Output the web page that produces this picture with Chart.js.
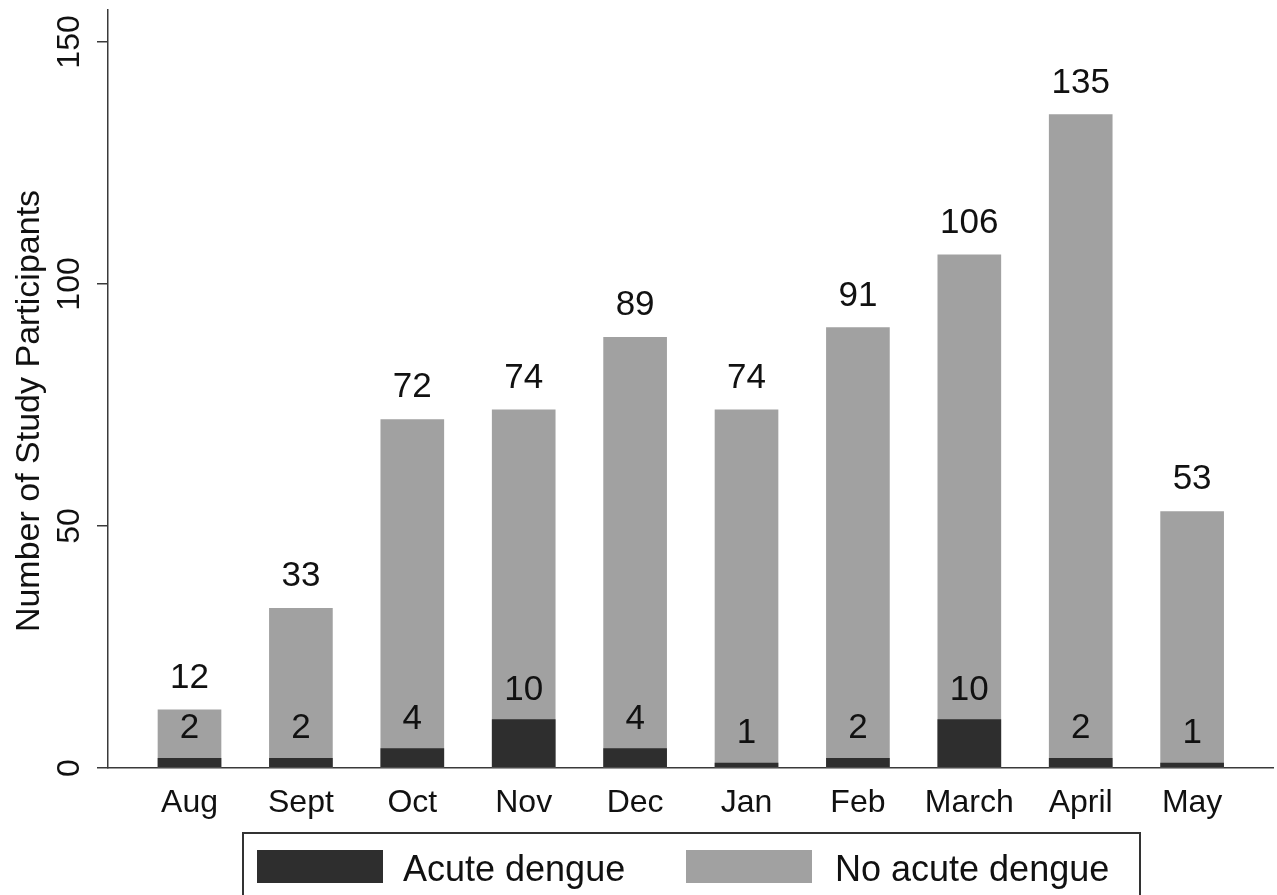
<!DOCTYPE html>
<html><head><meta charset="utf-8">
<script src="https://cdn.jsdelivr.net/npm/chart.js@4.4.1/dist/chart.umd.min.js"></script>
<style>html,body{margin:0;padding:0;background:#fff;overflow:hidden}#wrap{width:1277px;height:895px;position:relative}canvas{display:block}</style>
</head><body><div id="wrap"><canvas id="c" width="1277" height="895"></canvas></div>
<script>
const months = ['Aug','Sept','Oct','Nov','Dec','Jan','Feb','March','April','May'];
const acuteDengue = [2,2,4,10,4,1,2,10,2,1];
const totalParticipants = [12,33,72,74,89,74,91,106,135,53];
const yTicks = [0,50,100,150];
const seriesNames = ['Acute dengue','No acute dengue'];
const yTitle = 'Number of Study Participants';

const FONT = '"Liberation Sans", Arial, Helvetica, sans-serif';
const DARK = '#2e2e2e', GRAY = '#a1a1a1', AXIS = '#3a3a3a', TXT = '#111111';

const labelPlugin = {
  id: 'valueLabels',
  afterDatasetsDraw(chart) {
    const ctx = chart.ctx;
    ctx.save();
    ctx.fillStyle = TXT;
    ctx.font = '35px ' + FONT;
    ctx.textAlign = 'center';
    ctx.textBaseline = 'alphabetic';
    chart.data.datasets.forEach((ds, di) => {
      const meta = chart.getDatasetMeta(di);
      meta.data.forEach((bar, i) => {
        const off = di === 0 ? 20 : 22;
        ctx.fillText(String(ds.data[i].y), bar.x, bar.y - off);
      });
    });
    ctx.restore();
  }
};

const decorPlugin = {
  id: 'decor',
  afterDraw(chart) {
    const ctx = chart.ctx;
    ctx.save();
    ctx.translate(30, 411);
    ctx.rotate(-Math.PI / 2);
    ctx.fillStyle = TXT;
    ctx.font = '34px ' + FONT;
    ctx.textAlign = 'center';
    ctx.textBaseline = 'middle';
    ctx.fillText(yTitle, 0, 0);
    ctx.restore();
    ctx.save();
    ctx.strokeStyle = '#333';
    ctx.lineWidth = 2;
    ctx.strokeRect(243, 833, 897, 100);
    const items = [
      {x: 257, tx: 403, color: DARK, label: seriesNames[0]},
      {x: 686, tx: 835, color: GRAY, label: seriesNames[1]}
    ];
    ctx.font = '36px ' + FONT;
    ctx.textBaseline = 'alphabetic';
    ctx.textAlign = 'left';
    items.forEach(it => {
      ctx.fillStyle = it.color;
      ctx.fillRect(it.x, 850, 126, 33);
      ctx.fillStyle = TXT;
      ctx.fillText(it.label, it.tx, 881);
    });
    ctx.restore();
  }
};

new Chart(document.getElementById('c'), {
  type: 'bar',
  data: {
    datasets: [
      { label: seriesNames[0], data: acuteDengue.map((v, i) => ({x: i, y: v})), backgroundColor: DARK, grouped: false, barThickness: 63, borderWidth: 0 },
      { label: seriesNames[1], data: totalParticipants.map((v, i) => ({x: i, y: v})), backgroundColor: GRAY, grouped: false, barThickness: 63, borderWidth: 0 }
    ]
  },
  options: {
    responsive: false,
    animation: false,
    devicePixelRatio: 1,
    layout: { padding: { top: 10, right: 4, left: 0, bottom: 0 } },
    plugins: { legend: { display: false }, tooltip: { enabled: false } },
    scales: {
      x: {
        type: 'linear', min: -0.7316, max: 9.726, offset: false,
        afterBuildTicks: s => { s.ticks = months.map((m, i) => ({value: i})); },
        afterFit: s => { s.height = 127; s.paddingLeft = 0; s.paddingRight = 0; },
        grid: { display: false, drawTicks: false },
        border: { display: true, color: AXIS, width: 1.5 },
        ticks: { callback: v => months[v] ?? '', autoSkip: false, minRotation: 0, maxRotation: 0, padding: 16, color: TXT, font: { family: FONT, size: 32 } }
      },
      y: {
        type: 'linear', min: 0, max: 156.6,
        afterBuildTicks: s => { s.ticks = yTicks.map(v => ({value: v})); },
        afterFit: s => { s.width = 108; s.paddingTop = 0; s.paddingBottom = 0; },
        grid: { drawOnChartArea: false, drawTicks: true, tickLength: 11, color: AXIS, lineWidth: 1.5 },
        border: { display: true, color: AXIS, width: 1.5 },
        ticks: { minRotation: 90, maxRotation: 90, crossAlign: 'center', padding: 0, color: TXT, font: { family: FONT, size: 32 } }
      }
    }
  },
  plugins: [labelPlugin, decorPlugin]
});
</script></body></html>
